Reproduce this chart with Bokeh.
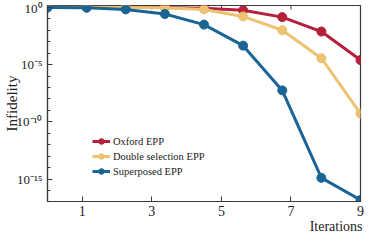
from bokeh.plotting import figure
from bokeh.models import Range1d, FixedTicker, Legend, LegendItem, Title
from bokeh.embed import file_html
from bokeh.resources import INLINE

# ---- data ----
iterations = [0, 1.125, 2.25, 3.375, 4.5, 5.625, 6.75, 7.875, 9]
oxford = [1.0, 1.0, 0.98, 0.95, 0.85, 0.55, 0.14, 7.7e-3, 2.5e-5]
double_sel = [1.0, 1.0, 0.97, 0.9, 0.66, 0.16, 1.0e-2, 3.6e-5, 5.2e-10]
superposed = [0.95, 0.93, 0.66, 0.26, 3.1e-2, 4.5e-4, 5.6e-8, 1.3e-15, 1.5e-17]
series_names = ["Oxford EPP", "Double selection EPP", "Superposed EPP"]
colors = ["#B5203A", "#EDC270", "#1A6496"]
x_ticks = [1, 3, 5, 7, 9]
y_major = [1e-15, 1e-10, 1e-5, 1.0]
y_major_labels = ["10⁻¹⁵", "10⁻¹⁰", "10⁻⁵", "10⁰"]
y_minor = [10.0 ** (-k) for k in range(1, 17) if k % 5 != 0]

SERIF = "Liberation Serif"
AX = "#3a3a3a"
Y_LO, Y_HI = 10 ** -16.95, 10 ** 0.16

p = figure(width=366, height=235, output_backend="svg", toolbar_location=None,
           y_axis_type="log",
           x_range=Range1d(0, 9), y_range=Range1d(Y_LO, Y_HI),
           min_border_left=40, min_border_right=6, min_border_top=5,
           min_border_bottom=20)
p.xgrid.visible = False
p.ygrid.visible = False
p.outline_line_color = AX
p.outline_line_width = 1.2
p.background_fill_color = "white"
p.border_fill_color = "white"

# inward ticks on the top border
p.segment(x0=x_ticks, x1=x_ticks, y0=[Y_HI] * len(x_ticks),
          y1=[Y_HI * 10 ** -0.35] * len(x_ticks), line_color=AX, line_width=1)

renderers = []
for ys, c in zip([oxford, double_sel, superposed], colors):
    r1 = p.line(iterations, ys, line_color=c, line_width=3)
    r2 = p.scatter(iterations, ys, size=9, fill_color=c, line_color=c)
    renderers.append([r1, r2])

# axes styling
xa = p.xaxis[0]
xa.ticker = FixedTicker(ticks=x_ticks)
xa.minor_tick_line_color = None
xa.major_tick_in = 5
xa.major_tick_out = 0
xa.axis_line_color = AX
xa.axis_line_width = 1.2
xa.major_tick_line_color = AX
xa.major_label_text_font = SERIF
xa.major_label_text_font_size = "14px"
xa.major_label_text_color = "#222222"
xa.major_label_standoff = 4

# x-axis label placed at the lower right, as in the reference
p.add_layout(Title(text="Iterations", align="right", vertical_align="top",
                   text_font=SERIF, text_font_size="14px",
                   text_font_style="normal", text_color="#222222",
                   standoff=0, offset=-2), "below")

ya = p.yaxis[0]
ya.ticker = FixedTicker(ticks=y_major, minor_ticks=y_minor)
ya.major_label_overrides = {t: lab for t, lab in zip(y_major, y_major_labels)}
ya.major_tick_in = 5
ya.major_tick_out = 0
ya.minor_tick_in = 3
ya.minor_tick_out = 0
ya.axis_line_color = AX
ya.axis_line_width = 1.2
ya.major_tick_line_color = AX
ya.minor_tick_line_color = AX
ya.major_label_text_font = SERIF
ya.major_label_text_font_size = "13px"
ya.major_label_text_color = "#222222"
ya.major_label_standoff = 5
ya.axis_label = "Infidelity"
ya.axis_label_text_font = SERIF
ya.axis_label_text_font_size = "15px"
ya.axis_label_text_font_style = "normal"
ya.axis_label_text_color = "#222222"
ya.axis_label_standoff = -6

legend = Legend(items=[LegendItem(label=n, renderers=rs) for n, rs in zip(series_names, renderers)],
                location=(45, 23), padding=0, margin=0, spacing=1,
                glyph_width=18, glyph_height=14, label_height=14, label_standoff=3,
                border_line_color=None, background_fill_alpha=0,
                label_text_font=SERIF, label_text_font_size="10.5px",
                label_text_color="#222222")
p.add_layout(legend, "center")

open("out.html", "w").write(file_html(p, INLINE))
